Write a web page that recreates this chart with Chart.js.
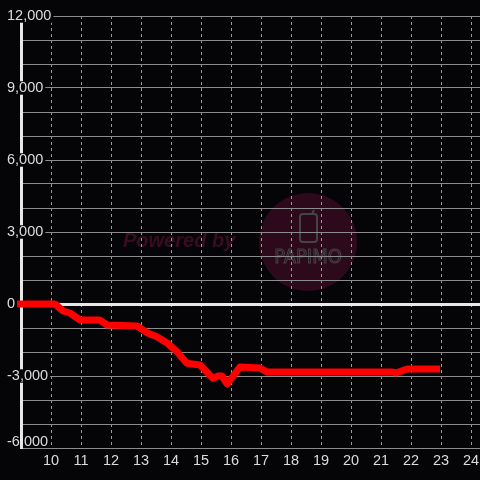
<!DOCTYPE html>
<html>
<head>
<meta charset="utf-8">
<script src="https://cdn.jsdelivr.net/npm/chart.js@4"></script>
<style>
html,body{margin:0;padding:0;background:#050407;}
#wrap{width:480px;height:480px;}
</style>
</head>
<body>
<div id="wrap"><canvas id="c" width="480" height="480"></canvas></div>
<script>
// Data
const hours  = [8.87, 10.13, 10.4, 10.63, 10.97, 11.63, 11.87, 12.87, 13.2, 13.53, 13.87, 14.2, 14.53, 14.97, 15.13, 15.4, 15.57, 15.7, 15.87, 16.3, 16.97, 17.2, 21.4, 21.5, 21.87, 22.97];
const values = [0, 0, -292, -375, -667, -667, -875, -917, -1196, -1362, -1625, -1987, -2471, -2542, -2750, -3097, -3000, -3000, -3333, -2625, -2667, -2833, -2833, -2875, -2708, -2708];
const xTickValues = [10, 11, 12, 13, 14, 15, 16, 17, 18, 19, 20, 21, 22, 23, 24];
const yTickValues = [-6000, -3000, 0, 3000, 6000, 9000, 12000];
const yTickLabels = ['-6,000', '-3,000', '0', '3,000', '6,000', '9,000', '12,000'];

const FONT = "'Liberation Sans', Arial, sans-serif";
const BG = '#050407';

const bgPlugin = {
  id: 'bgAndMark',
  beforeDraw(chart) {
    const ctx = chart.ctx;
    ctx.save();
    ctx.fillStyle = BG;
    ctx.fillRect(0, 0, chart.width, chart.height);
    // watermark
    ctx.fillStyle = '#2c0a1c';
    ctx.beginPath();
    ctx.arc(308, 242, 49, 0, Math.PI * 2);
    ctx.fill();
    ctx.fillStyle = '#3a0c20';
    ctx.font = "italic bold 20px " + FONT;
    ctx.textAlign = 'left';
    ctx.textBaseline = 'middle';
    ctx.fillText('Powered by', 123, 241);
    ctx.strokeStyle = '#444444';
    ctx.lineWidth = 2;
    ctx.beginPath();
    if (ctx.roundRect) ctx.roundRect(300, 214, 17, 28, 3); else ctx.rect(300, 214, 17, 28);
    ctx.stroke();
    ctx.beginPath();
    ctx.moveTo(312, 214); ctx.lineTo(314, 210);
    ctx.stroke();
    ctx.lineWidth = 1;
    ctx.font = "20px 'DejaVu Sans Condensed', 'DejaVu Sans', sans-serif";
    ctx.textAlign = 'center';
    ctx.strokeText('PAPIMO', 308, 258, 68);
    ctx.restore();
  }
};

const hasBackdrop = (v) => yTickValues.indexOf(v) !== -1 && v !== -6000;

new Chart(document.getElementById('c'), {
  type: 'line',
  data: {
    datasets: [{
      data: hours.map((h, i) => ({ x: h, y: values[i] })),
      borderColor: '#ff0000',
      borderWidth: 7,
      borderJoinStyle: 'round',
      pointRadius: 0,
      tension: 0,
      fill: false,
      clip: 6
    }]
  },
  options: {
    responsive: false,
    animation: false,
    devicePixelRatio: 1,
    layout: { padding: { left: 7, top: 16, right: 0, bottom: 0 } },
    plugins: { legend: { display: false }, tooltip: { enabled: false } },
    scales: {
      x: {
        type: 'linear',
        min: 9,
        max: 24.3,
        afterBuildTicks: (s) => { s.ticks = xTickValues.map(v => ({ value: v })); },
        afterFit: (s) => { s.height = 32; s.paddingRight = 0; s.paddingLeft = 0; },
        grid: { color: '#9a9a9a', lineWidth: 1, drawTicks: false },
        border: {
          display: true,
          color: '#8c8c8c',
          width: 1,
          dash: (c) => (c.type === 'tick' ? [3, 3] : [])
        },
        ticks: {
          color: '#dcdcdc',
          font: { family: FONT, size: 14.5 },
          padding: 4,
          maxRotation: 0,
          autoSkip: false,
          callback: (v) => String(v)
        }
      },
      y: {
        min: -6000,
        max: 12000,
        afterFit: (s) => { s.width = 14; },
        grid: {
          color: (c) => c.tick && c.tick.value === 0 ? '#e8e8e8' : '#8c8c8c',
          lineWidth: (c) => c.tick && c.tick.value === 0 ? 3 : 1,
          drawTicks: false
        },
        border: { color: '#e8e8e8', width: 3 },
        ticks: {
          stepSize: 1000,
          autoSkip: false,
          mirror: true,
          crossAlign: 'near',
          padding: -14,
          color: '#dcdcdc',
          font: (c) => ({ family: FONT, size: 14.5, lineHeight: (c.tick && c.tick.value === -6000) ? '13px' : 1.2 }),
          showLabelBackdrop: (c) => !!(c.tick && hasBackdrop(c.tick.value)),
          backdropColor: BG,
          backdropPadding: { top: -2, bottom: -2, left: 2, right: 2 },
          callback: (v) => {
            const i = yTickValues.indexOf(v);
            if (i === -1) return '';
            return v === -6000 ? [yTickLabels[i], ''] : yTickLabels[i];
          }
        }
      }
    }
  },
  plugins: [bgPlugin]
});
</script>
</body>
</html>
